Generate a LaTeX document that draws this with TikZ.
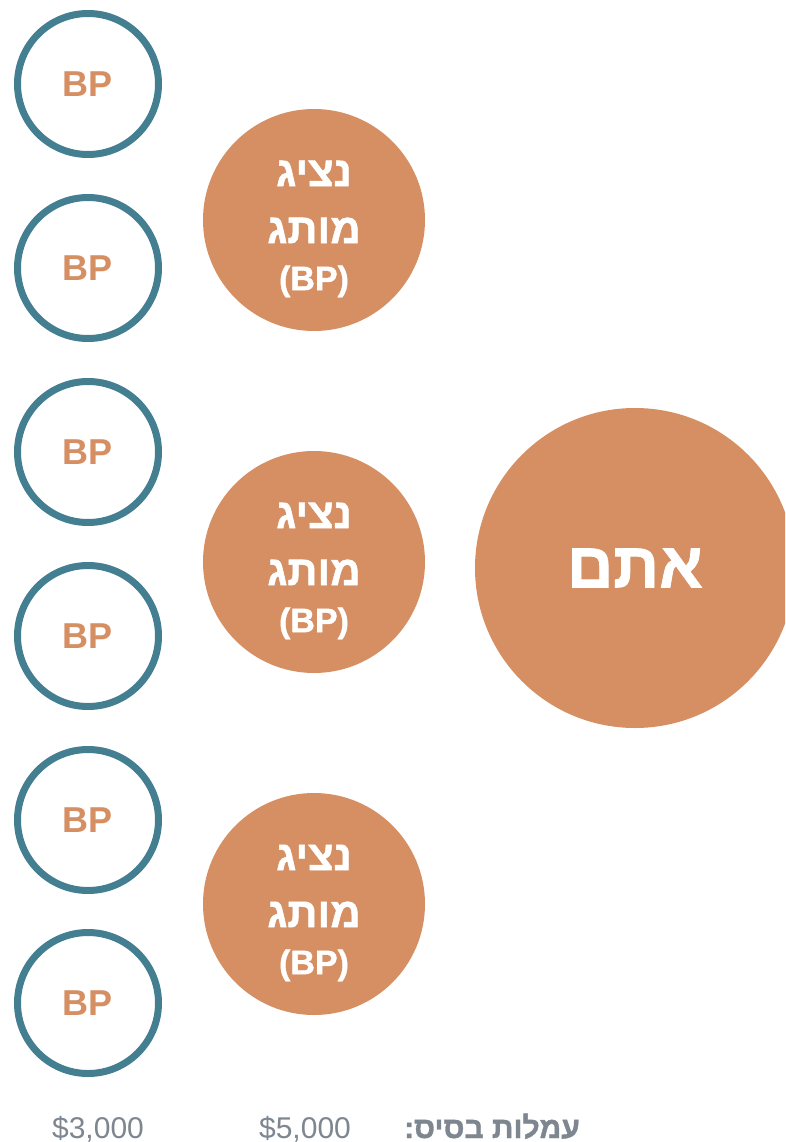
\documentclass[tikz,border=0pt]{standalone}
\usepackage{fontspec}
\setmainfont{Liberation Sans}
\newfontfamily\hebfont[Script=Hebrew, BoldFeatures={FakeBold=1.2}]{Liberation Sans}
\TeXXeTstate=1
\definecolor{orng}{HTML}{D58F63}
\definecolor{teal}{HTML}{437F91}
\definecolor{greytxt}{HTML}{7E8690}
\tikzset{
  bpcircle/.style={circle, draw=teal, line width=7pt, fill=white, minimum size=141pt, inner sep=0pt,
    font=\fontsize{36}{36}\selectfont\bfseries, text=orng},
  repcircle/.style={circle, fill=orng, minimum size=222pt, inner sep=0pt},
  reptext/.style={text=white, align=center, inner sep=0pt,
    font=\hebfont\bfseries\fontsize{42}{57}\selectfont},
  youcircle/.style={circle, fill=orng, minimum size=320pt, inner sep=0pt, text=white,
    font=\hebfont\bfseries\fontsize{64}{64}\selectfont},
  amount/.style={text=greytxt, font=\fontsize{30}{30}\selectfont, anchor=base, inner sep=0pt},
}
\begin{document}
\begin{tikzpicture}[x=1pt,y=-1pt]
\useasboundingbox (0,0) rectangle (785,1142);
\clip (0,0) rectangle (785,1142);
\node[youcircle] (you) at (635,568) {\raisebox{-4pt}{\beginR אתם\endR}};
\foreach \i/\y in {1/220,2/562,3/904}{
  \node[repcircle] (rep\i) at (314,\y) {};
  \node[reptext] (rep\i t) at ([yshift=-9pt]rep\i.center) {\beginR נציג\endR\\\beginR מותג\endR\\[-10pt]{\fontsize{34}{34}\selectfont(BP)}};
}
\foreach \i/\y in {1/84,2/268,3/452,4/636,5/820,6/1003}{
  \node[bpcircle] (bp\i) at (88,\y) {BP};
}
\node[amount] (a3) at (98,1138) {\$3,000};
\node[amount] (a5) at (305,1138) {\$5,000};
\node[amount, anchor=base east, font=\hebfont\bfseries\fontsize{30}{30}\selectfont] (base) at (580,1138) {\beginR עמלות בסיס:\endR};
\end{tikzpicture}
\end{document}
